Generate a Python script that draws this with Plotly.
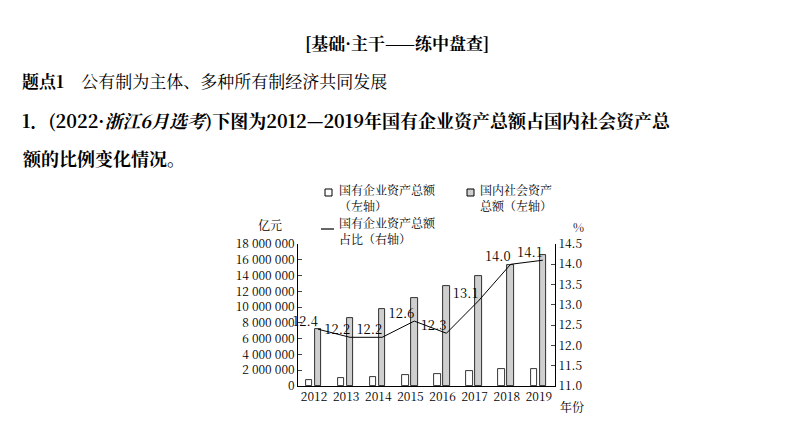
import plotly.graph_objects as go

years = ["2012", "2013", "2014", "2015", "2016", "2017", "2018", "2019"]
soe_assets = [750000, 1000000, 1100000, 1350000, 1500000, 1850000, 2100000, 2200000]
total_assets = [7200000, 8600000, 9800000, 11200000, 12700000, 14000000, 15400000, 16600000]
ratio = [12.4, 12.2, 12.2, 12.6, 12.3, 13.1, 14.0, 14.1]
left_ticks = list(range(0, 18000001, 2000000))
left_labels = ["0" if v == 0 else f"{v:,}".replace(",", " ") for v in left_ticks]

W, H = 794, 447
OFF = 8  # page offset seen in the render
L, R, T, B = 298 - OFF, 555 - OFF, 244 - OFF, 386 - OFF
FONT = "Noto Serif CJK SC, Noto Sans CJK SC, serif"


def px(x):
    return (x - OFF - L) / (R - L)


def py(y):
    return (B - (y - OFF)) / (B - T)


idx = list(range(len(years)))
fig = go.Figure()
fig.add_trace(go.Bar(x=[i - 0.16 for i in idx], y=soe_assets, width=0.2,
                     marker=dict(color="white", line=dict(color="black", width=0.8)),
                     showlegend=False))
fig.add_trace(go.Bar(x=[i + 0.12 for i in idx], y=total_assets, width=0.2,
                     marker=dict(color="#cfcfcf", line=dict(color="black", width=0.8)),
                     showlegend=False))
fig.add_trace(go.Scatter(x=[i + 0.12 for i in idx], y=ratio, yaxis="y2", mode="lines+text",
                         text=[f"{v:.1f}" for v in ratio], textposition="top left",
                         textfont=dict(size=13, family=FONT, color="black"),
                         line=dict(color="black", width=1), showlegend=False, cliponaxis=False))

ann = [
    dict(x=397, y=42, text="<b>[基础·主干——练中盘查]</b>", size=17, xanchor="center"),
    dict(x=20, y=80, text="<b>题点1</b>    公有制为主体、多种所有制经济共同发展", size=17, xanchor="left"),
    dict(x=20, y=120, text="<b>1．(2022·<i>浙江6月选考</i>)下图为2012—2019年国有企业资产总额占国内社会资产总</b>",
         size=18, xanchor="left"),
    dict(x=20, y=158, text="<b>额的比例变化情况。</b>", size=18, xanchor="left"),
    dict(x=337, y=189, text="国有企业资产总额", size=12, xanchor="left"),
    dict(x=337, y=205, text="（左轴）", size=12, xanchor="left"),
    dict(x=478, y=189, text="国内社会资产", size=12, xanchor="left"),
    dict(x=478, y=205, text="总额（左轴）", size=12, xanchor="left"),
    dict(x=337, y=222, text="国有企业资产总额", size=12, xanchor="left"),
    dict(x=337, y=238, text="占比（右轴）", size=12, xanchor="left"),
    dict(x=270, y=224, text="亿元", size=12, xanchor="center"),
    dict(x=578, y=226, text="%", size=12, xanchor="center"),
    dict(x=572, y=406, text="年份", size=12, xanchor="center"),
]
annotations = [dict(x=px(a["x"]), y=py(a["y"]), xref="paper", yref="paper",
                    xanchor=a["xanchor"], yanchor="middle", showarrow=False, text=a["text"],
                    font=dict(size=a["size"], family=FONT, color="black")) for a in ann]

shapes = [
    dict(type="rect", xref="paper", yref="paper", x0=px(325), x1=px(332), y0=py(196), y1=py(189),
         line=dict(color="black", width=1), fillcolor="white"),
    dict(type="rect", xref="paper", yref="paper", x0=px(467), x1=px(474), y0=py(196), y1=py(189),
         line=dict(color="black", width=1), fillcolor="#cfcfcf"),
    dict(type="line", xref="paper", yref="paper", x0=px(321), x1=px(334), y0=py(229), y1=py(229),
         line=dict(color="black", width=1.2)),
]

fig.update_layout(
    width=W, height=H, margin=dict(l=L, r=W - R, t=T, b=H - B, autoexpand=False),
    paper_bgcolor="white", plot_bgcolor="white", bargap=0,
    font=dict(family=FONT, color="black", size=12),
    xaxis=dict(range=[-0.5, 7.5], tickvals=idx, ticktext=years, showline=True, linecolor="black",
               ticks="", showgrid=False, zeroline=False, tickfont=dict(size=12)),
    yaxis=dict(range=[0, 18000000], tickvals=left_ticks, ticktext=left_labels, showline=True,
               linecolor="black", ticks="inside", ticklen=4, showgrid=False, zeroline=False,
               tickfont=dict(size=12)),
    yaxis2=dict(range=[11, 14.5], dtick=0.5, tickformat=".1f", overlaying="y", side="right",
                showline=True, linecolor="black", ticks="inside", ticklen=4, showgrid=False,
                zeroline=False, tickfont=dict(size=12)),
    annotations=annotations, shapes=shapes,
)
fig.write_html("out.html")
